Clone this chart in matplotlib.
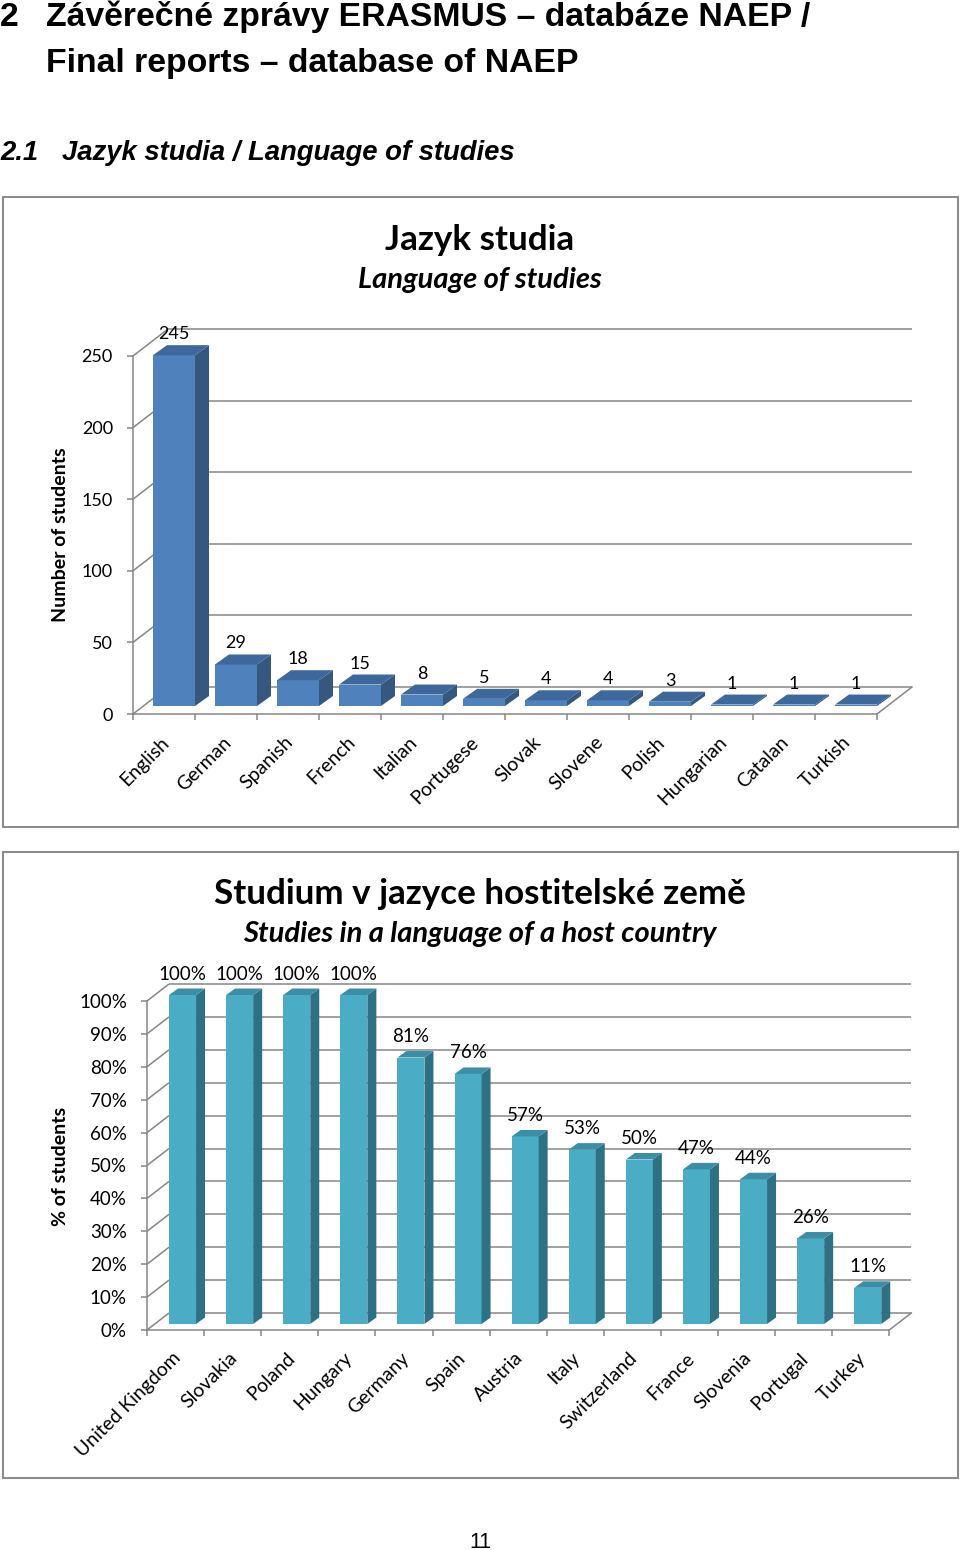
import numpy as np
import matplotlib
matplotlib.use("Agg")
import matplotlib.pyplot as plt
from matplotlib.patches import Polygon, Rectangle
from matplotlib.transforms import ScaledTranslation

# ---------------- data ----------------
languages = ["English", "German", "Spanish", "French", "Italian", "Portugese",
             "Slovak", "Slovene", "Polish", "Hungarian", "Catalan", "Turkish"]
students = [245, 29, 18, 15, 8, 5, 4, 4, 3, 1, 1, 1]
student_ticks = [0, 50, 100, 150, 200, 250]
student_tick_labels = [str(t) for t in student_ticks]

countries = ["United Kingdom", "Slovakia", "Poland", "Hungary", "Germany", "Spain",
             "Austria", "Italy", "Switzerland", "France", "Slovenia", "Portugal", "Turkey"]
host_pct = [100, 100, 100, 100, 81, 76, 57, 53, 50, 47, 44, 26, 11]
pct_ticks = [0, 10, 20, 30, 40, 50, 60, 70, 80, 90, 100]
pct_tick_labels = [f"{t}%" for t in pct_ticks]

# ---------------- page ----------------
W, H = 960, 1550
fig = plt.figure(figsize=(W / 100, H / 100), dpi=100)
plt.rcParams["font.family"] = ["Lato", "DejaVu Sans"]

def fx(x):
    return x / W

def fy(y):
    return 1 - y / H

HEAD = ["Liberation Sans", "DejaVu Sans"]
CHART = ["Lato", "DejaVu Sans"]
GRID = "#868686"

fig.text(fx(0), fy(26), "2", family=HEAD, weight="bold", fontsize=24.3, va="baseline")
fig.text(fx(46), fy(26), "Závěrečné zprávy ERASMUS – databáze NAEP /", family=HEAD,
         weight="bold", fontsize=24.3, va="baseline")
fig.text(fx(46), fy(72), "Final reports – database of NAEP", family=HEAD,
         weight="bold", fontsize=24.3, va="baseline")
fig.text(fx(0), fy(160), "2.1", family=HEAD, weight="bold", style="italic",
         fontsize=19.8, va="baseline")
fig.text(fx(62), fy(160), "Jazyk studia / Language of studies", family=HEAD,
         weight="bold", style="italic", fontsize=19.8, va="baseline")
fig.text(fx(480), fy(1548), "11", family=HEAD, fontsize=15.5, ha="center", va="baseline")

for top, bot in [(197, 827), (852, 1478)]:
    fig.add_artist(Rectangle((fx(3), fy(bot)), fx(955), (bot - top) / H,
                             transform=fig.transFigure, fill=False,
                             edgecolor="#8C8C8C", lw=1.5))


def chart(cats, vals, yticks, yticklabels, value_labels, x0, catw, y0, ppu, ymax,
          depth, off, bw, bdepth, colors, title, subtitle, ylabel, tpos, ylab_y,
          label_size):
    n = len(cats)
    ax = fig.add_axes([fx(x0), fy(y0), (n + 1) * catw / W, ymax * ppu / H])
    ax.set_xlim(-0.5, n + 0.5)
    ax.set_ylim(0, ymax)
    ax.patch.set_visible(False)
    DX, DY = depth
    OX, OY = off
    BDX, BDY = bdepth
    # walls: grid lines on side wall and back wall
    for t in yticks:
        ax.plot([-0.5, -0.5 + DX], [t, t + DY], color=GRID, lw=1.1, zorder=1,
                solid_capstyle="butt")
        ax.plot([-0.5 + DX, n - 0.5 + DX], [t + DY, t + DY], color=GRID, lw=1.1,
                zorder=1, solid_capstyle="butt")
    ax.plot([n - 0.5, n - 0.5 + DX], [0, DY], color=GRID, lw=1.1, zorder=1)
    # spines / ticks
    for s in ["top", "right"]:
        ax.spines[s].set_visible(False)
    ax.spines["left"].set_bounds(0, yticks[-1])
    ax.spines["bottom"].set_bounds(-0.5, n - 0.5)
    for s in ["left", "bottom"]:
        ax.spines[s].set_color(GRID)
        ax.spines[s].set_linewidth(1.1)
    ax.set_yticks(yticks, yticklabels)
    ax.tick_params(axis="y", direction="out", length=4.5, width=1.1, color=GRID,
                   pad=10, labelsize=label_size)
    ax.set_xticks(np.arange(n + 1) - 0.5)
    ax.set_xticklabels([])
    ax.set_xticks(np.arange(n), minor=True)
    ax.set_xticklabels(cats, minor=True, rotation=45, ha="right",
                       rotation_mode="anchor", fontsize=14)
    ax.tick_params(axis="x", which="major", direction="out", length=4.5, width=1.1,
                   color=GRID)
    ax.tick_params(axis="x", which="minor", length=0, pad=14)
    for lab in ax.get_xticklabels(minor=True):
        lab.set_transform(lab.get_transform() +
                          ScaledTranslation(-4 / 100, 0, fig.dpi_scale_trans))
    # bars
    front, side, topc = colors
    idx = np.arange(n)
    ax.bar(idx + OX, vals, width=bw, bottom=OY, color=front, lw=0, zorder=3)
    for i, v in enumerate(vals):
        xl, xr = i + OX - bw / 2, i + OX + bw / 2
        b, t = OY, OY + v
        ax.add_patch(Polygon([(xr, b), (xr + BDX, b + BDY), (xr + BDX, t + BDY), (xr, t)],
                             closed=True, facecolor=side, lw=0, zorder=3))
        ax.add_patch(Polygon([(xl, t), (xr, t), (xr + BDX, t + BDY), (xl + BDX, t + BDY)],
                             closed=True, facecolor=topc, lw=0, zorder=3))
        ax.annotate(value_labels[i], (i + OX, t), xytext=(0, 21),
                    textcoords="offset pixels", ha="center", va="center",
                    fontsize=label_size, zorder=4)
    # titles
    fig.text(fx(480), fy(tpos[0]), title, family=CHART, weight="bold", fontsize=25.2,
             ha="center", va="baseline")
    fig.text(fx(480), fy(tpos[1]), subtitle, family=CHART, weight="bold",
             style="italic", fontsize=21, ha="center", va="baseline")
    fig.text(fx(61), fy(ylab_y), ylabel, family=CHART, weight="bold", fontsize=14,
             rotation=90, ha="center", va="center")
    return ax


chart(languages, students, student_ticks, student_tick_labels,
      [str(v) for v in students],
      x0=133, catw=62, y0=714, ppu=1.432, ymax=285,
      depth=(35 / 62, 27 / 1.432), off=(10 / 62, 8 / 1.432), bw=42 / 62,
      bdepth=(14 / 62, 10 / 1.432),
      colors=("#4F81BD", "#36587F", "#3E679B"),
      title="Jazyk studia", subtitle="Language of studies",
      ylabel="Number of students", tpos=(250, 288), ylab_y=535, label_size=13)

chart(countries, host_pct, pct_ticks, pct_tick_labels,
      [f"{v}%" for v in host_pct],
      x0=147, catw=57.1, y0=1330, ppu=3.29, ymax=112,
      depth=(22 / 57.1, 17 / 3.29), off=(7 / 57.1, 6 / 3.29), bw=27 / 57.1,
      bdepth=(9 / 57.1, 6.5 / 3.29),
      colors=("#4BACC6", "#2E7185", "#3A8FA7"),
      title="Studium v jazyce hostitelské země",
      subtitle="Studies in a language of a host country",
      ylabel="% of students", tpos=(904, 942), ylab_y=1166, label_size=13.5)

fig.savefig("out.png", dpi=100)
